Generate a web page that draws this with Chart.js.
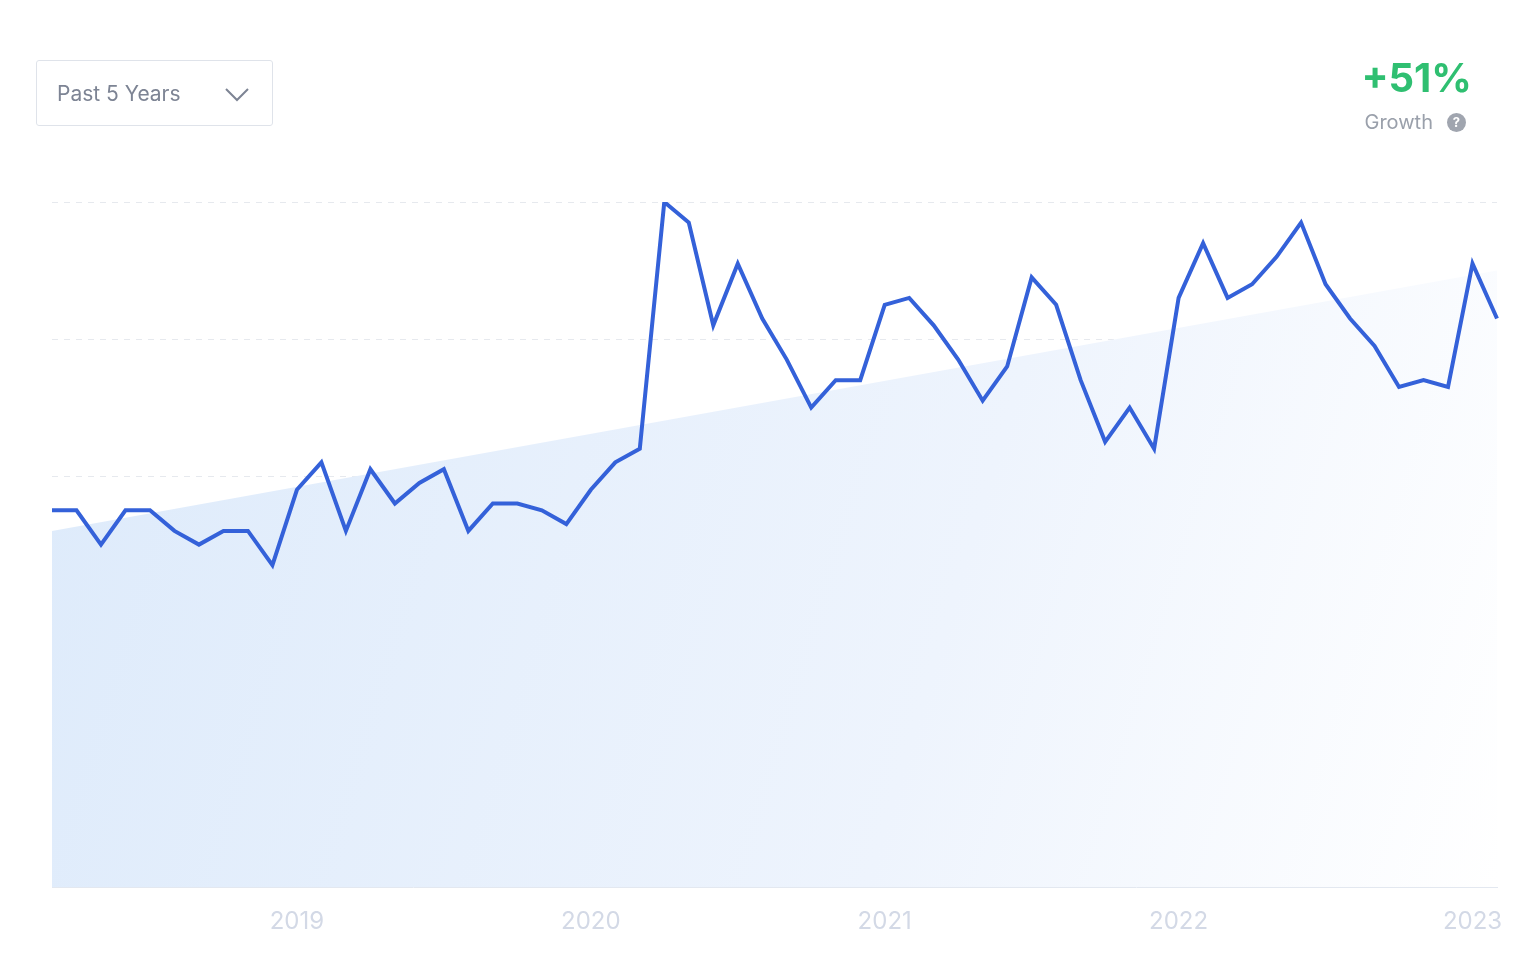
<!DOCTYPE html>
<html><head><meta charset="utf-8">
<script src="https://cdn.jsdelivr.net/npm/chart.js@4"></script>
<style>
html,body{margin:0;padding:0;background:#fff;width:1536px;height:966px;overflow:hidden;font-family:Inter,"Noto Sans",sans-serif}
#wrap{position:absolute;left:0;top:0;width:1536px;height:966px}
#dd{position:absolute;left:36px;top:60px;width:237px;height:66px;border:1px solid #dfe3ea;border-radius:3px;box-sizing:border-box;color:#7d8494;font-size:21px;line-height:66px;padding-left:20px}
#dd svg{position:absolute;right:22px;top:26px}
#g{position:absolute;right:64px;top:54px;text-align:right}
#g .v{color:#2fbf71;font-weight:700;font-size:40px;line-height:48px}
#g .l{color:#9aa0ab;font-size:20px;margin-top:8px;display:flex;align-items:center;justify-content:flex-end;gap:14px;margin-right:6px}
#g .q{width:19px;height:19px;border-radius:50%;background:#a0a5af;color:#fff;font-size:13px;font-weight:700;line-height:19px;text-align:center}
</style></head><body>
<div id="wrap"><canvas id="c" width="1536" height="966"></canvas></div>
<div id="dd">Past 5 Years<svg width="26" height="16" viewBox="0 0 26 16"><polyline points="2,2 13,13 24,2" fill="none" stroke="#7d8494" stroke-width="2"/></svg></div>
<div id="g"><div class="v">+51%</div><div class="l">Growth <span class="q">?</span></div></div>
<script>
const months = [];
for (let y = 2018; y <= 2023; y++) for (let m = 1; m <= 12; m++) {
  if ((y === 2018 && m < 3) || (y === 2023 && m > 2)) continue;
  months.push(y + '-' + String(m).padStart(2, '0'));
}
const interest = [55,55,50,55,55,52,50,52,52,47,58,62,52,61,56,59,61,52,56,56,55,53,58,62,64,100,97,82,91,83,77,70,74,74,85,86,82,77,71,76,89,85,74,65,70,64,86,94,86,88,92,97,88,83,79,73,74,73,91,83];
const trendStart = 52, trendEnd = 90;
const trend = months.map((_, i) => i === 0 ? trendStart : (i === months.length - 1 ? trendEnd : null));

const ctx = document.getElementById('c').getContext('2d');
new Chart(ctx, {
  type: 'line',
  data: { labels: months, datasets: [
    { data: interest, borderColor: '#3461d9', borderWidth: 4, pointRadius: 0, tension: 0, fill: false, order: 0 },
    { data: trend, spanGaps: true, borderWidth: 0, borderColor: 'rgba(0,0,0,0)', pointRadius: 0, order: 1,
      fill: 'origin',
      backgroundColor: (c) => {
        const a = c.chart.chartArea; if (!a) return '#e6f0fc';
        const g = c.chart.ctx.createLinearGradient(a.left, a.top + 250, a.right, a.bottom);
        g.addColorStop(0, '#deebfb'); g.addColorStop(0.6, '#eef4fd'); g.addColorStop(1, '#ffffff');
        return g;
      } }
  ]},
  options: {
    responsive: false, animation: false,
    layout: { padding: { left: 52, right: 39, top: 202, bottom: 18 } },
    plugins: { legend: { display: false }, tooltip: { enabled: false } },
    scales: {
      x: { offset: false, grid: { display: false }, border: { color: '#e3e8f0', width: 1 },
        ticks: { autoSkip: false, maxRotation: 0, padding: 12, color: '#d3d9e6', font: { family: 'Inter', size: 24 },
          callback: function(v) { const l = this.getLabelForValue(v); return l.endsWith('-01') ? l.slice(0, 4) : ''; } } },
      y: { min: 0, max: 100, afterFit: s => { s.width = 0; },
        ticks: { display: false, stepSize: 20 },
        grid: { color: c => c.tick.value === 0 ? 'rgba(0,0,0,0)' : '#e6e9ee', lineWidth: 1, drawTicks: false },
        border: { display: false, dash: [6, 6] } }
    }
  }
});
</script></body></html>
